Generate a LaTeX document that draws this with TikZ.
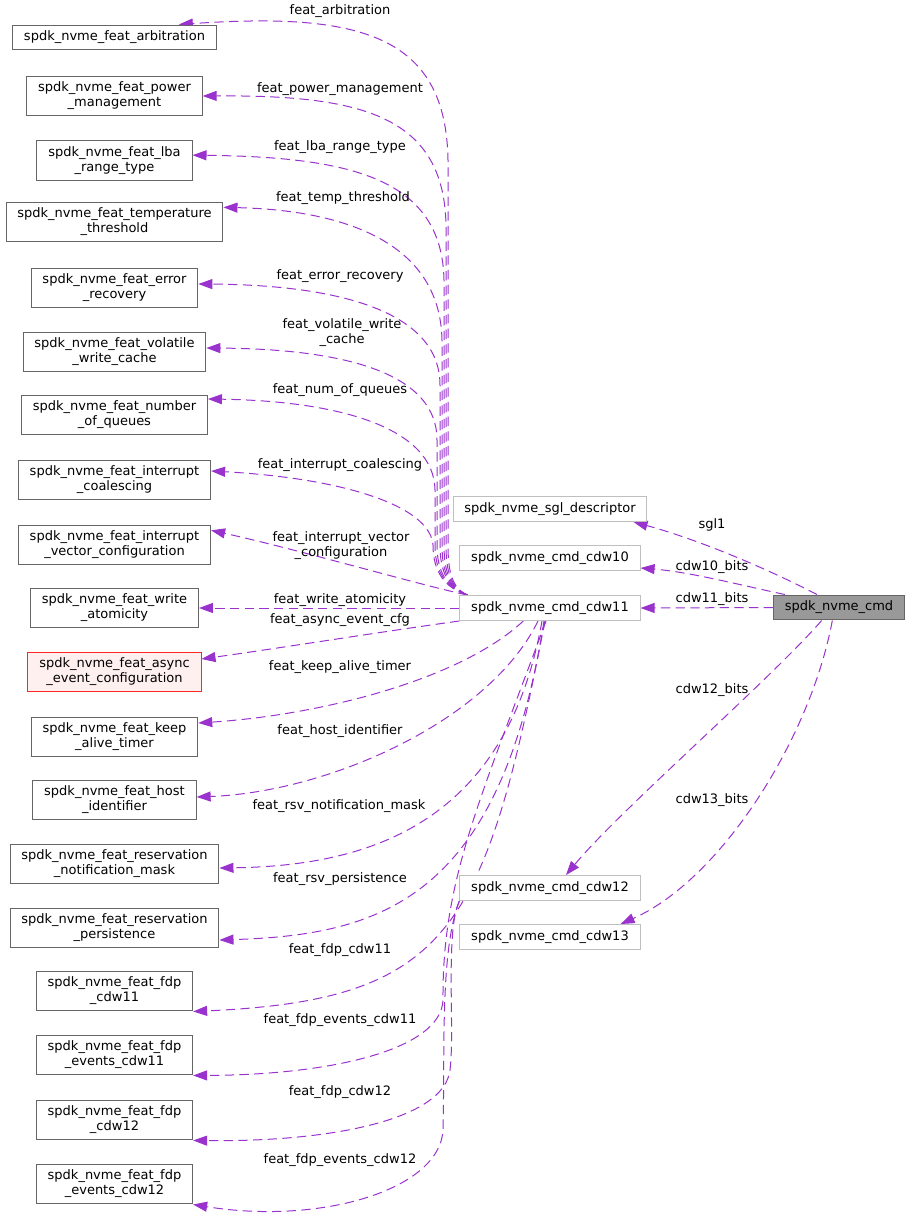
\documentclass[tikz,border=0pt]{standalone}
\usepackage{fontspec}
\setmainfont{DejaVu Sans}
\usetikzlibrary{arrows.meta,backgrounds}
\definecolor{ink}{RGB}{102,102,102}
\definecolor{pale}{RGB}{191,191,191}
\definecolor{orchid}{RGB}{154,50,205}
\definecolor{rootfill}{RGB}{153,153,153}
\definecolor{truncfill}{RGB}{255,240,240}
\newcommand{\gvfont}{\fontsize{9.75}{11.25}\selectfont}
\tikzset{
  cls/.style={draw=ink,fill=white,line width=0.75pt,inner xsep=8.5pt,
    inner ysep=4.5pt,align=center,font=\gvfont},
  part/.style={cls,draw=pale},
  root/.style={cls,fill=rootfill},
  trunc/.style={cls,draw=red!85,fill=truncfill},
  mem/.style={draw=orchid,line width=0.75pt,dash pattern=on 7pt off 4pt,
    -{Triangle[length=10.5pt,width=7.5pt]}},
  tag/.style={font=\gvfont,inner sep=0pt,align=center},
}

\begin{document}
\begin{tikzpicture}[x=0.75pt,y=-0.75pt]
  \useasboundingbox (0,0) rectangle (911,1221);
  % member structs (left column)
  \node[cls] (arb) at (114.5,37.5) {spdk\_nvme\_feat\_arbitration};
  \node[cls] (power) at (114.5,96) {spdk\_nvme\_feat\_power\\\_management};
  \node[cls] (lba) at (114.5,160.5) {spdk\_nvme\_feat\_lba\\\_range\_type};
  \node[cls] (temp) at (114.5,222) {spdk\_nvme\_feat\_temperature\\\_threshold};
  \node[cls] (err) at (114.5,288) {spdk\_nvme\_feat\_error\\\_recovery};
  \node[cls] (vol) at (114.5,352) {spdk\_nvme\_feat\_volatile\\\_write\_cache};
  \node[cls] (num) at (114.5,415) {spdk\_nvme\_feat\_number\\\_of\_queues};
  \node[cls] (coal) at (114.5,480) {spdk\_nvme\_feat\_interrupt\\\_coalescing};
  \node[cls] (vec) at (114.5,545) {spdk\_nvme\_feat\_interrupt\\\_vector\_configuration};
  \node[cls] (write) at (114.5,608) {spdk\_nvme\_feat\_write\\\_atomicity};
  \node[trunc] (async) at (114.5,672) {spdk\_nvme\_feat\_async\\\_event\_configuration};
  \node[cls] (keep) at (114.5,737) {spdk\_nvme\_feat\_keep\\\_alive\_timer};
  \node[cls] (host) at (114.5,800) {spdk\_nvme\_feat\_host\\\_identifier};
  \node[cls] (rsvn) at (114.5,864) {spdk\_nvme\_feat\_reservation\\\_notification\_mask};
  \node[cls] (rsvp) at (114.5,928) {spdk\_nvme\_feat\_reservation\\\_persistence};
  \node[cls] (fdp11) at (114.5,991) {spdk\_nvme\_feat\_fdp\\\_cdw11};
  \node[cls] (fdpe11) at (114.5,1055) {spdk\_nvme\_feat\_fdp\\\_events\_cdw11};
  \node[cls] (fdp12) at (114.5,1120) {spdk\_nvme\_feat\_fdp\\\_cdw12};
  \node[cls] (fdpe12) at (114.5,1184) {spdk\_nvme\_feat\_fdp\\\_events\_cdw12};
  % command dwords (middle column)
  \node[part] (sgl) at (550,509) {spdk\_nvme\_sgl\_descriptor};
  \node[part] (cdw10) at (550,558) {spdk\_nvme\_cmd\_cdw10};
  \node[part] (cdw11) at (550,608) {spdk\_nvme\_cmd\_cdw11};
  \node[part] (cdw12) at (550,888) {spdk\_nvme\_cmd\_cdw12};
  \node[part] (cdw13) at (550,937) {spdk\_nvme\_cmd\_cdw13};
  \node[root] (cmd) at (839,607.5) {spdk\_nvme\_cmd};
  % edge labels
  \node[tag] (t-arb) at (340,11) {feat\_arbitration};
  \node[tag] (t-power) at (340,89) {feat\_power\_management};
  \node[tag] (t-lba) at (340,147) {feat\_lba\_range\_type};
  \node[tag] (t-temp) at (343,198) {feat\_temp\_threshold};
  \node[tag] (t-err) at (340,276) {feat\_error\_recovery};
  \node[tag] (t-vol) at (342,333) {feat\_volatile\_write\\\_cache};
  \node[tag] (t-num) at (340,390) {feat\_num\_of\_queues};
  \node[tag] (t-coal) at (340,465) {feat\_interrupt\_coalescing};
  \node[tag] (t-vec) at (341,546) {feat\_interrupt\_vector\\\_configuration};
  \node[tag] (t-write) at (340,600) {feat\_write\_atomicity};
  \node[tag] (t-async) at (340,620) {feat\_async\_event\_cfg};
  \node[tag] (t-keep) at (340,667) {feat\_keep\_alive\_timer};
  \node[tag] (t-host) at (340,731) {feat\_host\_identifier};
  \node[tag] (t-rsvn) at (339,806) {feat\_rsv\_notification\_mask};
  \node[tag] (t-rsvp) at (340,879) {feat\_rsv\_persistence};
  \node[tag] (t-fdp11) at (340,950) {feat\_fdp\_cdw11};
  \node[tag] (t-fdpe11) at (340,1020) {feat\_fdp\_events\_cdw11};
  \node[tag] (t-fdp12) at (340,1092) {feat\_fdp\_cdw12};
  \node[tag] (t-fdpe12) at (340,1160) {feat\_fdp\_events\_cdw12};
  \node[tag] (t-sgl) at (712,525) {sgl1};
  \node[tag] (t-cdw10) at (712,567) {cdw10\_bits};
  \node[tag] (t-cdw11) at (712,599) {cdw11\_bits};
  \node[tag] (t-cdw12) at (712,690) {cdw12\_bits};
  \node[tag] (t-cdw13) at (712,800) {cdw13\_bits};
  \begin{scope}[on background layer]
    % cdw11 -> upper members, bundled up the middle
    \draw[mem] ([xshift=6pt]cdw11.north west) .. controls (452,588) and (448,572) .. (448,545)
      -- (448,160) .. controls (446,35) and (360,12) .. ([xshift=-28.5pt]arb.north east);
    \draw[mem] ([xshift=6pt]cdw11.north west) .. controls (451,588) and (446,572) .. (446,545)
      -- (446,225) .. controls (444,115) and (360,95) .. (power.east);
    \draw[mem] ([xshift=6pt]cdw11.north west) .. controls (450,588) and (444,572) .. (444,545)
      -- (444,280) .. controls (442,178) and (350,157) .. ([yshift=4pt]lba.east);
    \draw[mem] ([xshift=6pt]cdw11.north west) .. controls (449,588) and (442,572) .. (442,545)
      -- (442,340) .. controls (440,240) and (340,210) .. ([yshift=11pt]temp.east);
    \draw[mem] ([xshift=6pt]cdw11.north west) .. controls (448,588) and (440,572) .. (440,545)
      -- (440,385) .. controls (440,312) and (340,285) .. ([yshift=3pt]err.east);
    \draw[mem] ([xshift=6pt]cdw11.north west) .. controls (447,588) and (437,572) .. (437,545)
      -- (437,440) .. controls (437,375) and (350,349) .. ([yshift=3pt]vol.east);
    \draw[mem] ([xshift=6pt]cdw11.north west) .. controls (446,588) and (435,572) .. (435,545)
      -- (435,490) .. controls (434,428) and (340,401) .. ([yshift=12pt]num.east);
    \draw[mem] ([xshift=6pt]cdw11.north west) .. controls (445,588) and (433,572) .. (433,545)
      .. controls (430,505) and (340,478) .. ([yshift=6.75pt]coal.east);
    \draw[mem] ([xshift=6pt]cdw11.north west) .. controls (420,585) and (300,550) .. ([yshift=11pt]vec.east);
    \draw[mem] (cdw11.west) -- (write.east);
    \draw[mem] (cdw11.south west) .. controls (380,632) and (280,648) .. ([yshift=9.75pt]async.east);
    % cdw11 -> lower members
    \draw[mem] ([xshift=-20pt]cdw11.south) .. controls (460,680) and (320,715) .. ([yshift=10.5pt]keep.east);
    \draw[mem] ([xshift=-9pt]cdw11.south) .. controls (490,720) and (330,792) .. ([yshift=2.25pt]host.east);
    \draw[mem] ([xshift=-6pt]cdw11.south) .. controls (505,830) and (360,866) .. ([yshift=-3pt]rsvn.east);
    \draw[mem] ([xshift=-4.5pt]cdw11.south) .. controls (500,900) and (380,935) .. ([yshift=-9pt]rsvp.east);
    \draw[mem] ([xshift=-3.75pt]cdw11.south) .. controls (485,930) and (450,1000) .. (fdp11.south east);
    \draw[mem] ([xshift=-3pt]cdw11.south) .. controls (480,800) and (442,880) .. (443,1000)
      .. controls (441,1050) and (330,1075) .. (fdpe11.south east);
    % cdw12 -> its members
    \draw[mem] (cdw12.south west) .. controls (445,930) and (455,1030) .. (450,1070)
      .. controls (444,1120) and (330,1142) .. (fdp12.south east);
    \draw[mem] (cdw12.south west) .. controls (440,950) and (445,1050) .. (443,1130)
      .. controls (440,1190) and (320,1225) .. (fdpe12.south east);
    % spdk_nvme_cmd -> dwords
    \draw[mem] ([xshift=33pt]cmd.north west) .. controls (770,570) and (700,540) .. ([xshift=-10.5pt]sgl.south east);
    \draw[mem] ([xshift=9pt]cmd.north west) .. controls (740,585) and (690,572) .. ([yshift=-7.5pt]cdw10.east);
    \draw[mem] (cmd.west) -- (cdw11.east);
    \draw[mem] ([xshift=-13pt]cmd.south) .. controls (770,680) and (620,810) .. ([xshift=12pt]cdw12.north);
    \draw[mem] ([xshift=-5pt]cmd.south) .. controls (810,740) and (720,880) .. ([xshift=-15pt]cdw13.north east);
  \end{scope}
\end{tikzpicture}
\end{document}
